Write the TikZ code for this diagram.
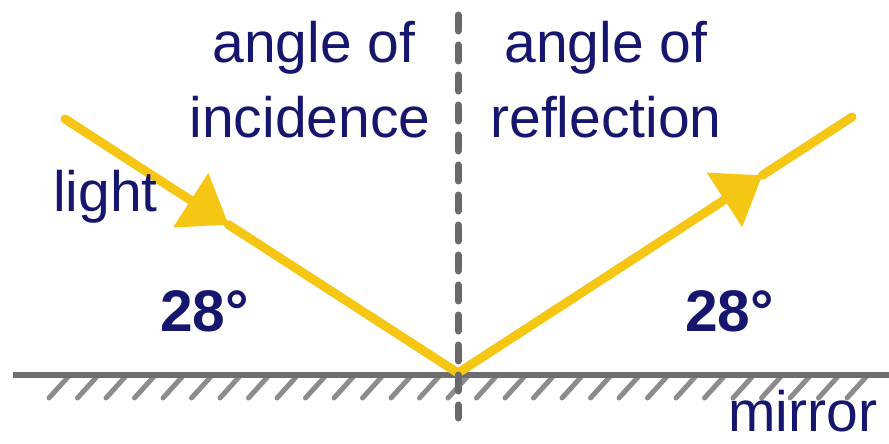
\documentclass[tikz,border=0pt]{standalone}
\usepackage{fontspec}
\setmainfont{Liberation Sans}
\usetikzlibrary{arrows.meta,calc}
\definecolor{txt}{RGB}{22,22,110}
\definecolor{raygold}{RGB}{246,198,20}
\definecolor{mirrorgray}{RGB}{110,110,110}
\definecolor{hatchgray}{RGB}{140,140,140}
\definecolor{normalgray}{RGB}{105,105,105}
\tikzset{
  lbl/.style={inner sep=0pt,text=txt,font=\fontsize{42.75}{50}\selectfont},
  deg/.style={lbl,font=\fontsize{44}{50}\selectfont\bfseries},
  ray/.style={draw=raygold,line width=6.75pt,line cap=round},
  raytip/.style={-{Triangle[length=33.75pt,width=48.75pt,line width=0pt]}},
  mirrorline/.style={draw=mirrorgray,line width=4.5pt},
  hatch/.style={draw=hatchgray,line width=3.75pt,line cap=round},
  normalline/.style={draw=normalgray,line width=5.25pt,line cap=round,dash pattern=on 12pt off 10.5pt}
}
\begin{document}
\begin{tikzpicture}[x=0.75pt,y=-0.75pt]
\useasboundingbox (0,0) rectangle (889,443);
% hatches
\foreach \k in {0,...,28}{
  \draw[hatch] ({68+28.5*\k},377) -- ({49+28.5*\k},398);
}
% mirror
\coordinate (ML) at (13,375);
\coordinate (MR) at (889,375);
\draw[mirrorline] (ML) -- (MR);
% rays
\coordinate (L) at (65,119);
\coordinate (O) at (458,373);
\coordinate (R) at (852,117);
\coordinate (LT) at ($(L)!0.416!(O)$);
\coordinate (RT) at ($(O)!0.772!(R)$);
\draw[ray,raytip] (L) -- (LT);
\draw[ray] (LT) -- (O);
\draw[ray,raytip] (O) -- (RT);
\draw[ray] (RT) -- (R);
% normal
\coordinate (NT) at (458,15);
\coordinate (NB) at (458,418);
\draw[normalline] (NT) -- (NB);
% labels
\node[lbl,anchor=base] (ai1) at (314,62) {angle of};
\node[lbl,anchor=base] (ai2) at (310,137) {incidence};
\node[lbl,anchor=base] (ar1) at (606,62) {angle of};
\node[lbl,anchor=base] (ar2) at (606,137) {reflection};
\node[lbl,anchor=base west] (light) at (53,211) {light};
\node[deg,anchor=base west] (dl) at (160,331) {28°};
\node[deg,anchor=base west] (dr) at (685,331) {28°};
\node[lbl,anchor=base west] (mirror) at (728,431) {mirror};
\end{tikzpicture}
\end{document}
